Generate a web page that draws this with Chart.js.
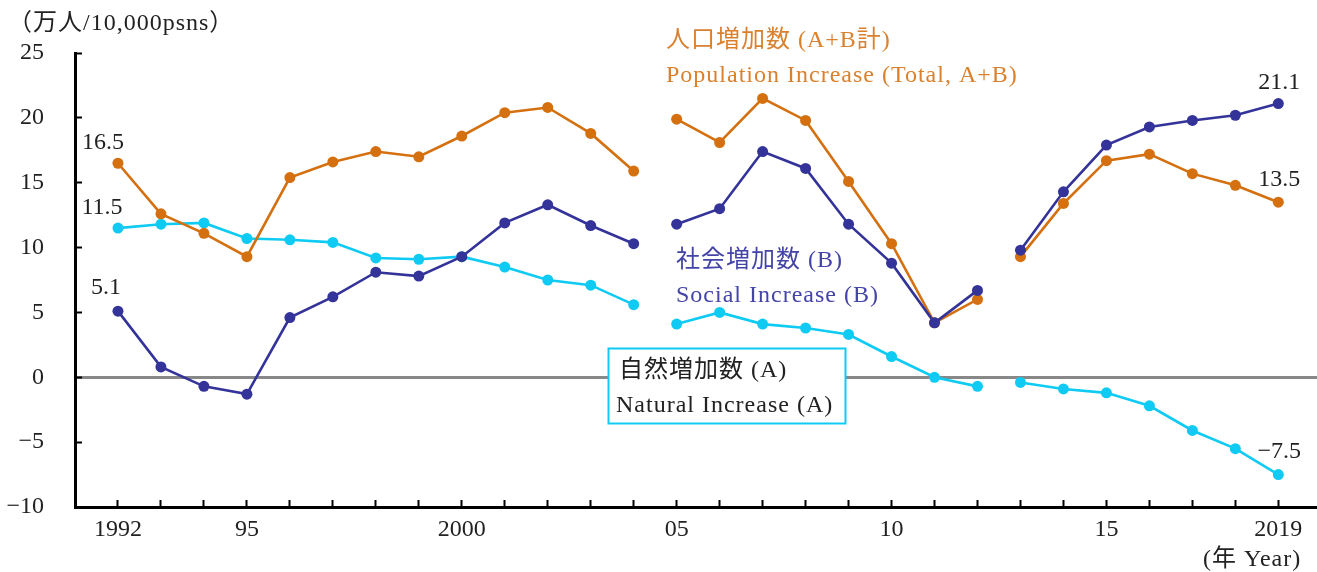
<!DOCTYPE html>
<html><head><meta charset="utf-8">
<script src="https://cdn.jsdelivr.net/npm/chart.js@4.4.1/dist/chart.umd.min.js"></script>
<style>html,body{margin:0;padding:0;background:#fff;}#wrap{width:1317px;height:572px;}</style>
</head><body><div id="wrap"><canvas id="c" width="1317" height="572"></canvas></div>
<script>
const years = [1992,1993,1994,1995,1996,1997,1998,1999,2000,2001,2002,2003,2004,2005,2006,2007,2008,2009,2010,2011,2012,2013,2014,2015,2016,2017,2018,2019];
const totalIncrease = [16.5,12.6,11.1,9.3,15.4,16.6,17.4,17.0,18.6,20.4,20.8,18.8,15.9,19.9,18.1,21.5,19.8,15.1,10.3,4.2,6.0,9.3,13.4,16.7,17.2,15.7,14.8,13.5];
const socialIncrease = [5.1,0.8,-0.7,-1.3,4.6,6.2,8.1,7.8,9.3,11.9,13.3,11.7,10.3,11.8,13.0,17.4,16.1,11.8,8.8,4.2,6.7,9.8,14.3,17.9,19.3,19.8,20.2,21.1];
const naturalIncrease = [11.5,11.8,11.9,10.7,10.6,10.4,9.2,9.1,9.3,8.5,7.5,7.1,5.6,4.1,5.0,4.1,3.8,3.3,1.6,0.0,-0.7,-0.4,-0.9,-1.2,-2.2,-4.1,-5.5,-7.5];
const labelYears = [1992,1995,2000,2005,2010,2015,2019];
const labelTexts = ['1992','95','2000','05','10','15','2019'];
const breakAfterYears = [2004,2012];

const FONT = '"Liberation Serif", "Noto Sans CJK JP", serif';
const C_TOTAL = '#D4700F', C_SOCIAL = '#333399', C_NATURAL = '#0FCBF3';

function pts(arr){ return arr.map((v,i)=>({x:years[i], y:v})); }
const seg = { borderColor: ctx => breakAfterYears.includes(years[ctx.p0DataIndex]) ? 'rgba(0,0,0,0)' : undefined };
function ds(label, arr, color){
  return {label, data: pts(arr), borderColor: color, backgroundColor: color, pointBackgroundColor: color,
    pointBorderWidth: 0, pointRadius: 5.5, borderWidth: 2.6, tension: 0, segment: seg, clip: 10};
}

const annot = {
  id: 'annot',
  afterDraw(chart){
    const c = chart.ctx;
    c.save();
    c.fillStyle = '#fff'; c.fillRect(608, 348, 238, 76);
    c.strokeStyle = C_NATURAL; c.lineWidth = 2; c.strokeRect(608.5, 348.5, 237, 75);
    c.font = '24px ' + FONT; c.textBaseline = 'middle'; c.textAlign = 'left';
    try { c.letterSpacing = '1px'; } catch(e){}
    const txt = (s,x,y,col)=>{ c.fillStyle = col; c.fillText(s,x,y); };
    txt('（万人/10,000psns）', 8, 24, '#222');
    txt('人口増加数 (A+B計)', 666, 41, '#D9812E');
    txt('Population Increase (Total, A+B)', 666, 76, '#D9812E');
    txt('社会増加数 (B)', 676, 261, '#4444A8');
    txt('Social Increase (B)', 676, 296, '#4444A8');
    txt('自然増加数 (A)', 619, 371, '#222');
    txt('Natural Increase (A)', 616, 406, '#222');
    txt('(年 Year)', 1203, 560, '#222');
    c.textAlign = 'center';
    try { c.letterSpacing = '0px'; } catch(e){}
    const lab = (di, idx, dx, dy)=>{
      const p = chart.getDatasetMeta(di).data[idx];
      const v = chart.data.datasets[di].data[idx].y;
      c.fillStyle = '#222';
      c.fillText(v.toFixed(1).replace('-', '−'), p.x + dx, p.y + dy);
    };
    const last = years.length - 1;
    lab(1, 0, -15, -21);
    lab(2, 0, -16, -20);
    lab(0, 0, -12, -23);
    lab(0, last, 1, -21);
    lab(1, last, 1, -22);
    lab(2, last, 1, -23);
    c.restore();
  }
};

new Chart(document.getElementById('c'), {
  type: 'line',
  data: { datasets: [
    ds('Social Increase (B)', socialIncrease, C_SOCIAL),
    ds('Population Increase (Total, A+B)', totalIncrease, C_TOTAL),
    ds('Natural Increase (A)', naturalIncrease, C_NATURAL)
  ]},
  options: {
    responsive: false, animation: false,
    layout: { autoPadding: false, padding: { top: 53, left: 0, right: 0, bottom: 0 } },
    plugins: { legend: { display: false }, tooltip: { enabled: false } },
    scales: {
      x: {
        type: 'linear', min: 1991, max: 2019.9,
        afterBuildTicks: s => { s.ticks = years.map(v => ({ value: v })); },
        afterFit: s => { s.height = 65; s.paddingLeft = 0; s.paddingRight = 0; },
        grid: { drawOnChartArea: false, drawTicks: true, tickLength: -7, tickColor: '#000', tickWidth: 2 },
        border: { color: '#000', width: 3 },
        ticks: { autoSkip: false, maxRotation: 0, minRotation: 0, padding: 15, color: '#222',
          font: { family: FONT, size: 24 },
          callback: v => { const i = labelYears.indexOf(v); return i < 0 ? '' : labelTexts[i]; } }
      },
      y: {
        min: -10, max: 25,
        afterFit: s => { s.width = 75; s.paddingTop = 0; s.paddingBottom = 0; },
        grid: { drawTicks: true, tickLength: -7, tickColor: '#000', tickWidth: 2,
          color: ctx => (ctx.tick && ctx.tick.value === 0) ? '#888888' : 'rgba(0,0,0,0)',
          lineWidth: ctx => (ctx.tick && ctx.tick.value === 0) ? 3 : 1 },
        border: { color: '#000', width: 3 },
        ticks: { stepSize: 5, padding: 38, color: '#222', font: { family: FONT, size: 24 },
          callback: v => String(v).replace('-', '−') }
      }
    }
  },
  plugins: [annot]
});
</script></body></html>
